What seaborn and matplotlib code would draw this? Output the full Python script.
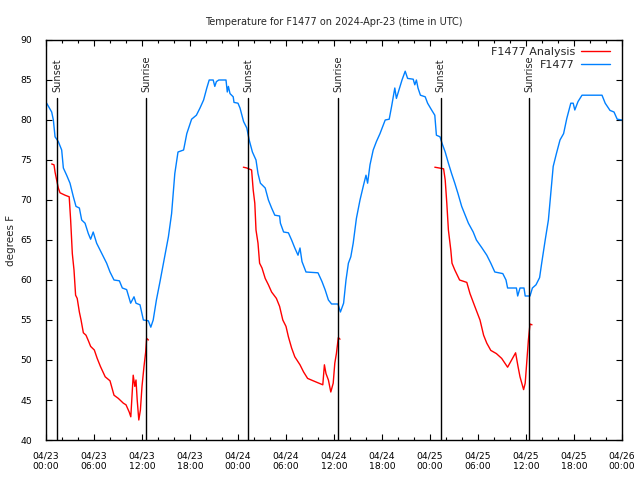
import pandas as pd
import matplotlib
matplotlib.use('Agg')
import matplotlib.pyplot as plt
import matplotlib.dates as mdates
import seaborn as sns

# Hours after 2024-04-23 00:00 UTC and temperatures (degrees F)
obs_hours = [0.08, 0.71, 0.92, 1.13, 1.54, 1.96, 2.17, 2.58, 3.0, 3.42, 3.75, 4.17, 4.46, 4.88,
             5.29, 5.58, 5.9, 6.33, 6.75, 7.17, 7.58, 8.0, 8.5, 9.17, 9.54, 10.08, 10.58, 11.0,
             11.25, 11.75, 12.17, 12.79, 13.1, 13.4, 13.8, 14.25, 14.75, 15.3, 15.7, 16.1, 16.5,
             17.2, 17.6, 18.2, 18.8, 19.25, 19.7, 20.1, 20.4, 20.9, 21.1, 21.3, 21.6, 22.5, 22.66,
             22.8, 23.0, 23.4, 23.5, 24.0, 24.25, 24.7, 25.1, 25.4, 25.8, 26.25, 26.5, 26.8, 27.4,
             27.8, 28.2, 28.6, 29.2, 29.3, 29.7, 30.3, 30.7, 31.1, 31.5, 31.75, 32.0, 32.5, 34.0,
             34.5, 34.9, 35.3, 35.7, 36.5, 36.8, 37.2, 37.5, 37.8, 38.1, 38.4, 38.8, 39.25, 39.7,
             40.0, 40.2, 40.5, 40.9, 41.3, 41.75, 42.4, 42.9, 43.2, 43.6, 43.8, 44.25, 44.5, 44.9,
             45.2, 45.9, 46.1, 46.3, 46.5, 46.8, 47.4, 47.7, 48.2, 48.6, 48.8, 49.25, 49.5, 49.9,
             50.3, 50.7, 51.1, 51.5, 51.96, 52.4, 52.8, 53.4, 53.8, 54.5, 55.1, 55.6, 56.1, 57.1,
             57.5, 57.7, 58.8, 58.96, 59.25, 59.75, 59.9, 60.5, 60.8, 61.25, 61.7, 61.96, 62.4,
             62.8, 63.1, 63.4, 63.8, 64.25, 64.7, 65.1, 65.6, 65.9, 66.1, 66.5, 67.0, 69.5, 69.9,
             70.5, 71.0, 71.4, 72.0]
obs_temps = [82.1, 81.0, 80.0, 77.9, 77.3, 76.25, 74.0, 73.1, 72.1, 70.4, 69.2, 69.0, 67.5, 67.1,
             65.8, 65.1, 66.0, 64.6, 63.75, 62.9, 62.1, 61.0, 60.0, 59.9, 59.0, 58.8, 57.1, 57.9,
             57.1, 56.9, 55.0, 54.9, 54.1, 55.0, 57.5, 59.8, 62.5, 65.4, 68.3, 73.3, 76.0,
             76.25, 78.3, 80.1, 80.6, 81.5, 82.5, 84.0, 85.0, 85.0, 84.2, 84.8, 85.0, 85.0, 83.5,
             84.2, 83.3, 82.9, 82.2, 82.1, 81.5, 79.8, 79.0, 77.5, 76.0, 75.0, 73.3, 72.1, 71.5,
             70.0, 69.0, 68.1, 68.0, 67.1, 66.0, 65.9, 65.0, 64.0, 63.1, 64.0, 62.3, 61.0, 60.9,
             59.8, 58.75, 57.5, 57.0, 57.0, 56.0, 57.1, 60.0, 62.1, 62.9, 64.6, 67.7, 70.0, 71.9,
             73.1, 72.1, 74.4, 76.25, 77.3, 78.3, 80.0, 80.1, 81.7, 84.0, 82.7, 84.2, 85.0, 86.1,
             85.2, 85.1, 84.4, 85.0, 84.0, 83.1, 82.9, 82.1, 81.25, 80.6, 78.1, 77.9, 77.1, 76.0,
             74.6, 73.3, 72.1, 70.8, 69.2, 68.1, 67.1, 66.0, 65.0, 64.0, 63.1, 62.1, 61.0, 60.8,
             60.0, 59.0, 59.0, 58.0, 59.0, 59.0, 58.0, 58.0, 59.0, 59.4, 60.3, 62.1, 65.0,
             67.5, 70.8, 74.2, 75.8, 77.5, 78.3, 80.2, 82.1, 82.1, 81.25, 82.3, 83.1, 83.1, 82.1,
             81.2, 81.0, 80.1, 80.0]

ana_hours = [0.71, 1.0, 1.13, 1.33, 1.54, 1.75, 2.38, 2.9, 3.08, 3.29, 3.5, 3.7, 3.9, 4.17, 4.38,
             4.67, 5.0, 5.3, 5.58, 6.04, 6.4, 6.8, 7.4, 8.0, 8.5, 9.04, 9.67, 10.0, 10.4, 10.6,
             10.9, 11.1, 11.25, 11.4, 11.6, 11.8, 12.0, 12.25, 12.46, 12.58, 12.8,
             24.67, 25.1, 25.7, 25.9, 26.1, 26.25, 26.5, 26.7, 27.0, 27.4, 27.8, 28.2, 28.8, 29.2,
             29.6, 30.0, 30.3, 30.7, 31.1, 31.75, 32.2, 32.7, 33.4, 34.6, 34.8, 35.0, 35.3, 35.6,
             35.9, 36.1, 36.3, 36.54, 36.75,
             48.6, 49.7, 49.9, 50.1, 50.3, 50.6, 50.75, 51.1, 51.7, 52.6, 53.0, 53.6, 54.25, 54.7,
             55.1, 55.6, 56.3, 56.96, 57.7, 58.2, 58.7, 59.0, 59.25, 59.7, 59.9, 60.1, 60.3, 60.5,
             60.75]
ana_temps = [74.5, 74.4, 73.5, 72.5, 71.5, 70.9, 70.6, 70.4, 67.5, 63.3, 61.25, 58.1, 57.7, 56.0,
             55.0, 53.4, 53.1, 52.4, 51.7, 51.25, 50.2, 49.2, 47.9, 47.4, 45.6, 45.2, 44.6, 44.4,
             43.5, 42.9, 48.1, 46.7, 47.5, 45.0, 42.5, 43.75, 46.7, 49.2, 51.0, 52.7, 52.5,
             74.1, 74.0, 73.75, 71.25, 69.6, 66.25, 64.6, 62.1, 61.5, 60.2, 59.4, 58.5, 57.7,
             56.7, 55.0, 54.2, 52.9, 51.5, 50.4, 49.4, 48.5, 47.7, 47.4, 46.9, 49.4, 48.3, 47.5,
             46.0, 47.1, 49.6, 50.8, 52.8, 52.6,
             74.1, 73.9, 72.5, 69.6, 66.25, 63.75, 62.1, 61.25, 60.0, 59.7, 58.3, 56.7, 55.0, 53.1,
             52.1, 51.2, 50.8, 50.2, 49.1, 50.0, 50.9, 49.2, 47.9, 46.3, 47.1, 49.8, 52.5, 54.5,
             54.4]
ana_night = [1] * 41 + [2] * 33 + [3] * 29

sun_hours = [1.41, 12.54, 25.29, 36.54, 49.34, 60.41]
sun_labels = ['Sunset', 'Sunrise', 'Sunset', 'Sunrise', 'Sunset', 'Sunrise']

start = pd.Timestamp('2024-04-23 00:00')
obs = pd.DataFrame({'time': start + pd.to_timedelta(obs_hours, unit='h'), 'temp': obs_temps})
ana = pd.DataFrame({'time': start + pd.to_timedelta(ana_hours, unit='h'), 'temp': ana_temps,
                    'night': ana_night})

sns.set_style('ticks')
plt.rcParams['font.family'] = ['DejaVu Sans']
plt.rcParams['font.size'] = 7

fig = plt.figure(figsize=(6.4, 4.8), dpi=100)
ax = fig.add_axes([46 / 640, 40 / 480, 576 / 640, 400 / 480])

# analysis: one segment per night, but a single legend entry
first = True
for n, grp in ana.groupby('night'):
    sns.lineplot(data=grp, x='time', y='temp', color='#ff0000', lw=1, ax=ax,
                 label='F1477 Analysis' if first else None, legend=False)
    first = False
sns.lineplot(data=obs, x='time', y='temp', color='#0080ff', lw=1, ax=ax,
             label='F1477', legend=False)

# sunrise / sunset markers
for h, lab in zip(sun_hours, sun_labels):
    t = start + pd.Timedelta(hours=h)
    ax.plot([t, t], [40, 82.75], color='black', lw=1)
    ax.text(t, 83.5, lab, rotation=90, ha='center', va='bottom', fontsize=7)

ax.set_xlim(start, start + pd.Timedelta(hours=72))
ax.set_ylim(40, 90)
ax.set_yticks(range(40, 91, 5))
ax.xaxis.set_major_locator(mdates.HourLocator(byhour=[0, 6, 12, 18]))
ax.xaxis.set_minor_locator(mdates.HourLocator(byhour=range(0, 24, 2)))
ax.xaxis.set_major_formatter(mdates.DateFormatter('%m/%d\n%H:%M'))
ax.tick_params(which='both', direction='in', top=True, right=True, colors='black',
               width=0.8, labelsize=6.7)
ax.tick_params(which='major', length=4.5)
ax.tick_params(which='minor', length=2.5)
ax.tick_params(axis='y', pad=10)
ax.tick_params(axis='x', pad=8)
for s in ax.spines.values():
    s.set_color('black')
    s.set_linewidth(1)

ax.set_xlabel('')
ax.set_ylabel('')
fig.text(11 / 640, 0.5, 'degrees F', rotation=90, ha='center', va='center', fontsize=7.5)
ax.set_title('Temperature for F1477 on 2024-Apr-23 (time in UTC)', pad=11, fontsize=7)

handles, labels = ax.get_legend_handles_labels()
ax.legend(handles, labels, loc='upper right', bbox_to_anchor=(0.979, 0.983), frameon=False,
          markerfirst=False, fontsize=8, handlelength=2.6, borderaxespad=0, borderpad=0,
          labelspacing=0.25, handletextpad=0.55)

plt.savefig('out.png', dpi=100)
